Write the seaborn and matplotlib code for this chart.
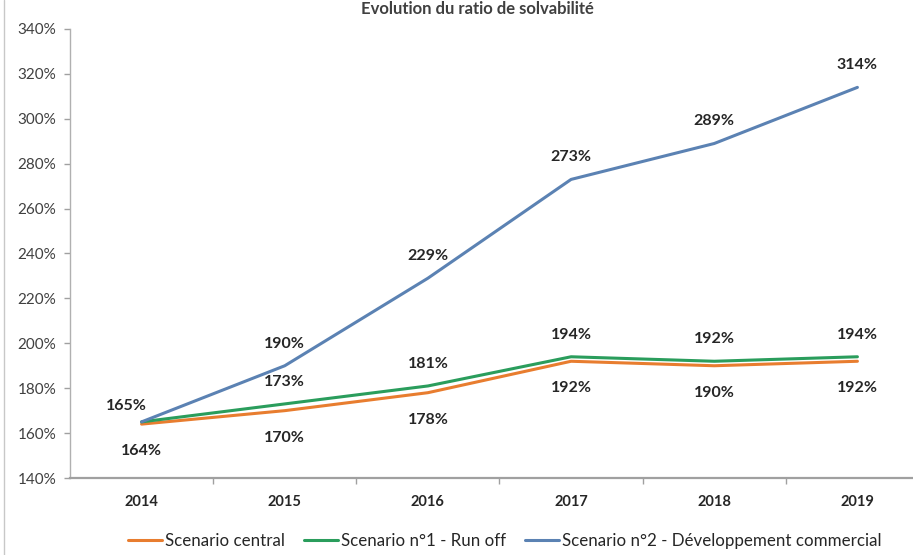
import matplotlib
matplotlib.use("Agg")
import matplotlib.pyplot as plt
import seaborn as sns
import pandas as pd
from matplotlib.lines import Line2D

years = ["2014", "2015", "2016", "2017", "2018", "2019"]
central = [164, 170, 178, 192, 190, 192]
run_off = [165, 173, 181, 194, 192, 194]
dev_com = [165, 190, 229, 273, 289, 314]
series_names = ["Scenario central", "Scenario n°1 - Run off",
                "Scenario n°2 - Développement commercial"]
colors = ["#E87D2F", "#2A9D5C", "#5B82B3"]
y_ticks = [140, 160, 180, 200, 220, 240, 260, 280, 300, 320, 340]
title = "Evolution du ratio de solvabilité"

sns.set_theme(style="white")
plt.rcParams["font.family"] = ["Lato", "DejaVu Sans"]

rows = []
for name, vals in zip(series_names, [central, run_off, dev_com]):
    for i, (y, v) in enumerate(zip(years, vals)):
        rows.append({"pos": i, "year": y, "value": v, "scenario": name})
df = pd.DataFrame(rows)

fig = plt.figure(figsize=(9.13, 5.55), dpi=100)
ax = fig.add_axes([70 / 913, 1 - 478 / 555, (929 - 70) / 913, (478 - 29) / 555])

sns.lineplot(data=df, x="pos", y="value", hue="scenario", hue_order=series_names,
             palette=colors, linewidth=2.2, ax=ax, legend=False, sort=False)

ax.set_xlim(-0.5, 5.5)
ax.set_ylim(140, 340)
ax.set_yticks(y_ticks)
ax.set_yticklabels([f"{t}%" for t in y_ticks], fontsize=11, color="#404040")
ax.set_xticks(range(len(years)))
ax.set_xticklabels(years, fontsize=10.5, fontweight="bold", color="#262626")
ax.set_xticks([i + 0.5 for i in range(len(years) - 1)], minor=True)
ax.tick_params(axis="x", which="major", length=0, pad=12)
ax.tick_params(axis="x", which="minor", length=4, width=1, color="#A0A0A0", direction="out", bottom=True)
ax.tick_params(axis="y", which="major", length=4, width=1, color="#A0A0A0", direction="out", left=True, pad=6)
ax.set_xlabel("")
ax.set_ylabel("")
for s in ["top", "right"]:
    ax.spines[s].set_visible(False)
ax.spines["left"].set_color("#B0B0B0")
ax.spines["left"].set_linewidth(1.0)
ax.spines["bottom"].set_color("#A0A0A0")
ax.spines["bottom"].set_linewidth(1.6)
ax.grid(False)

lab_kw = dict(textcoords="offset points", ha="center", va="center",
              fontsize=11.5, fontweight="bold", color="#262626")
for i, v in enumerate(central):
    ax.annotate(f"{v}%", (i, v), xytext=(0, -19.5), **lab_kw)
for i, v in enumerate(run_off):
    if i == 0:
        ax.annotate(f"{v}%", (i, v), xytext=(-11, 11.5), **lab_kw)
    else:
        ax.annotate(f"{v}%", (i, v), xytext=(0, 16), **lab_kw)
for i, v in enumerate(dev_com):
    if i == 0:
        continue
    ax.annotate(f"{v}%", (i, v), xytext=(0, 16), **lab_kw)

handles = [Line2D([0], [0], color=c, lw=2.2) for c in colors]
fig.legend(handles, series_names, loc="center", bbox_to_anchor=(0.553, 0.026),
           ncol=3, frameon=False, fontsize=12.2, handlelength=2.0, handletextpad=0.2,
           columnspacing=1.1, labelcolor="#262626")

fig.text(0.523, 1 - 1 / 555, title, ha="center", va="top", fontsize=12,
         fontweight="bold", color="#404040")

fig.add_artist(Line2D([4 / 913, 4 / 913], [0, 1], color="#C8C8C8", lw=1.0,
                      transform=fig.transFigure))

fig.savefig("out.png", dpi=100)
